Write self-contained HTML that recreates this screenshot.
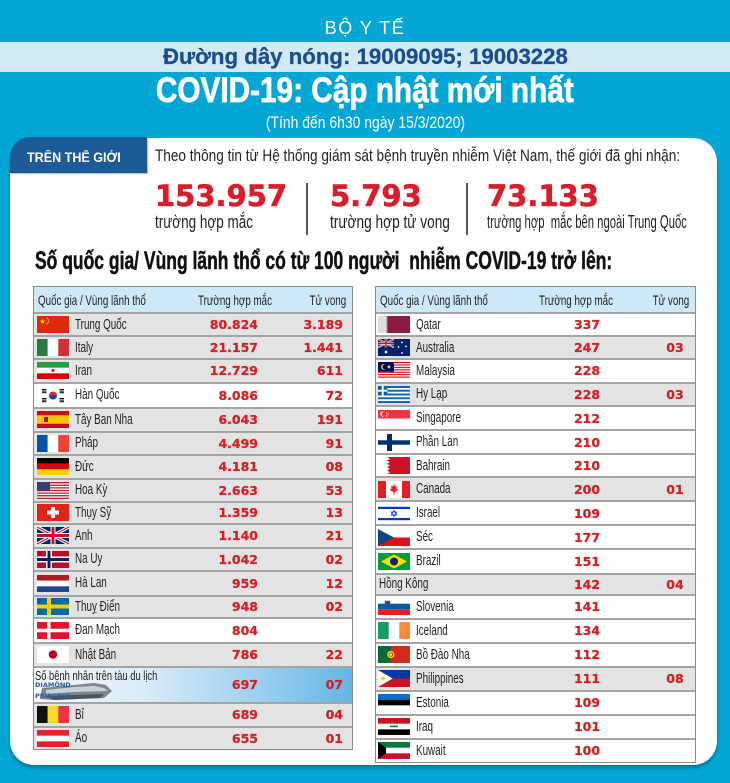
<!DOCTYPE html>
<html><head><meta charset="utf-8">
<style>
*{margin:0;padding:0;box-sizing:border-box}
html,body{width:730px;height:783px;overflow:hidden}
body{position:relative;background:#03a6d5;font-family:"Liberation Sans",sans-serif;color:#231f20}
.a{position:absolute;white-space:nowrap;line-height:1}
.cw{left:0;width:730px;text-align:center}
.cw span{display:inline-block;transform-origin:50% 50%}
.sx{display:inline-block;transform-origin:0 50%}
.card{position:absolute;left:10px;top:138px;width:707px;height:627px;background:#fff;border-radius:24px;box-shadow:0 3px 3px rgba(0,0,0,.28)}
.tab{position:absolute;left:10px;top:137px;width:137px;height:36px;background:#1d5a98;border-top-left-radius:20px;box-shadow:1px 1px 1px rgba(0,0,0,.3)}
.big{font-family:"DejaVu Sans",sans-serif;font-weight:bold;font-size:29px;color:#d71f2b;-webkit-text-stroke:.6px #d71f2b}
.lab{font-size:18px;color:#231f20}
.dv{position:absolute;top:183px;width:2px;height:52px;background:#58595b}
.tb{position:absolute;top:286px;border:1px solid #8b8b8b;background:#fff}
.hd{position:relative;height:25px;background:#cde8f6}
.r{position:relative;border-top:2px solid #a4a4a4}
.g{background:#e3e3e4}
.r>span,.hd>span{position:absolute;top:0;bottom:0;display:flex;align-items:center;white-space:nowrap}
.hd>span{font-size:14px;color:#231f20}
.h1{left:4px;transform:scaleX(.7);transform-origin:0 50%}
.h2{transform:translateX(-50%) scaleX(.7);transform-origin:50% 50%}
.h3{right:6px;transform:scaleX(.7);transform-origin:100% 50%}
.nm{font-size:14.5px;transform:scaleX(.68);transform-origin:0 50%}
.n{font-family:"DejaVu Sans",sans-serif;font-weight:bold;font-size:12.5px;color:#d42027;-webkit-text-stroke:.25px #d42027}
.tb1{left:33px;width:320px}
.tb2{left:375px;width:321px}
.tb1 .c{right:94px}.tb1 .d{right:9px}
.tb2 .c{left:211px;transform:translateX(-50%)}
.tb2 .d{left:299px;transform:translateX(-50%)}
.tb1 .nm{left:41px}.tb2 .nm{left:40px}
.tb1 .h2{left:201px}.tb2 .h2{left:200px}
svg.f{position:absolute;top:50%;margin-top:-8.5px;width:32px;height:17px}
.tb1 svg.f{left:3px}.tb2 svg.f{left:2px}
</style></head><body>

<!-- header -->
<div class="a cw" style="top:19px;font-size:18px;color:#fff;letter-spacing:1.5px"><span>BỘ Y TẾ</span></div>
<div style="position:absolute;left:0;top:42px;width:730px;height:30px;background:#d3eaf4"></div>
<div class="a cw" style="top:46px;font-size:22px;font-weight:bold;color:#1b4e8e;-webkit-text-stroke:.3px #1b4e8e"><span style="transform:scaleX(1.01)">Đường dây nóng: 19009095; 19003228</span></div>
<div class="a cw" style="top:73px;font-size:35px;font-weight:bold;color:#fff;-webkit-text-stroke:.7px #fff"><span style="transform:scaleX(.85)">COVID-19: Cập nhật mới nhất</span></div>
<div class="a cw" style="top:114px;font-size:17px;color:#fff"><span style="transform:scaleX(.82)">(Tính đến 6h30 ngày 15/3/2020)</span></div>

<div class="card"></div>
<div class="tab"></div>
<div class="a" style="left:27px;top:151px;font-size:13.5px;font-weight:bold;color:#fff"><span class="sx" style="transform:scaleX(.93)">TRÊN THẾ GIỚI</span></div>
<div class="a" style="left:155px;top:147px;font-size:17px"><span class="sx" style="transform:scaleX(.8)">Theo thông tin từ Hệ thống giám sát bệnh truyền nhiễm Việt Nam, thế giới đã ghi nhận:</span></div>

<div class="a big" style="left:155px;top:181.5px">153.957</div>
<div class="a big" style="left:330px;top:181.5px">5.793</div>
<div class="a big" style="left:487px;top:181.5px">73.133</div>
<div class="a lab" style="left:155px;top:213px"><span class="sx" style="transform:scaleX(.75)">trường hợp mắc</span></div>
<div class="a lab" style="left:330px;top:213px"><span class="sx" style="transform:scaleX(.76)">trường hợp tử vong</span></div>
<div class="a lab" style="left:487px;top:213px"><span class="sx" style="transform:scaleX(.627)">trường hợp &nbsp;mắc bên ngoài Trung Quốc</span></div>
<div class="dv" style="left:306px"></div>
<div class="dv" style="left:466px"></div>

<div class="a" style="left:35px;top:249px;font-size:25px;font-weight:bold;color:#111;-webkit-text-stroke:.5px #111"><span class="sx" style="transform:scaleX(.7)">Số quốc gia/ Vùng lãnh thổ có từ 100 người &nbsp;nhiễm COVID-19 trở lên:</span></div>

<!-- LEFT TABLE -->
<div class="tb tb1">
<div class="hd"><span class="h1">Quốc gia / Vùng lãnh thổ</span><span class="h2">Trường hợp mắc</span><span class="h3">Tử vong</span></div>

<div class="r g" style="height:23px"><svg class="f" viewBox="0 0 32 17" preserveAspectRatio="none"><rect width="32" height="17" fill="#de2910"/><polygon fill="#ffde00" points="5.5,2.5 6.2,4.5 8.3,4.6 6.6,5.9 7.3,7.9 5.5,6.7 3.7,7.9 4.4,5.9 2.7,4.6 4.8,4.5"/><circle cx="10" cy="2.3" r=".7" fill="#ffde00"/><circle cx="11.3" cy="4" r=".7" fill="#ffde00"/><circle cx="11.3" cy="6.2" r=".7" fill="#ffde00"/><circle cx="10" cy="7.8" r=".7" fill="#ffde00"/></svg><span class="nm">Trung Quốc</span><span class="n c">80.824</span><span class="n d">3.189</span></div>

<div class="r g" style="height:23px"><svg class="f" viewBox="0 0 32 17" preserveAspectRatio="none"><rect width="10.7" height="17" fill="#2d7a3f"/><rect x="10.7" width="10.6" height="17" fill="#fff"/><rect x="21.3" width="10.7" height="17" fill="#d42e36"/></svg><span class="nm">Italy</span><span class="n c">21.157</span><span class="n d">1.441</span></div>

<div class="r g" style="height:23.5px"><svg class="f" viewBox="0 0 32 17" preserveAspectRatio="none"><rect width="32" height="17" fill="#fff"/><rect width="32" height="5.67" fill="#239f40"/><rect y="11.33" width="32" height="5.67" fill="#da0000"/><circle cx="16" cy="8.5" r="1.5" fill="#da0000"/></svg><span class="nm">Iran</span><span class="n c">12.729</span><span class="n d">611</span></div>

<div class="r" style="height:25px"><svg class="f" viewBox="0 0 32 17" preserveAspectRatio="none"><rect width="32" height="17" fill="#fff"/><path d="M12,8.5 a4,4 0 0 1 8,0z" fill="#cd2e3a"/><path d="M12,8.5 a4,4 0 0 0 8,0z" fill="#0047a0"/><g fill="#000"><rect x="5" y="2" width="4.5" height="1"/><rect x="5" y="3.6" width="4.5" height="1"/><rect x="5" y="5.2" width="4.5" height="1"/><rect x="22.5" y="2" width="4.5" height="1"/><rect x="22.5" y="3.6" width="4.5" height="1"/><rect x="22.5" y="5.2" width="4.5" height="1"/><rect x="5" y="11" width="4.5" height="1"/><rect x="5" y="12.6" width="4.5" height="1"/><rect x="5" y="14.2" width="4.5" height="1"/><rect x="22.5" y="11" width="4.5" height="1"/><rect x="22.5" y="12.6" width="4.5" height="1"/><rect x="22.5" y="14.2" width="4.5" height="1"/></g></svg><span class="nm">Hàn Quốc</span><span class="n c">8.086</span><span class="n d">72</span></div>

<div class="r g" style="height:24px"><svg class="f" viewBox="0 0 32 17" preserveAspectRatio="none"><rect width="32" height="17" fill="#c60b1e"/><rect y="4.25" width="32" height="8.5" fill="#ffc400"/><rect x="7" y="6" width="4" height="5" fill="#ad1519"/></svg><span class="nm">Tây Ban Nha</span><span class="n c">6.043</span><span class="n d">191</span></div>

<div class="r g" style="height:23px"><svg class="f" viewBox="0 0 32 17" preserveAspectRatio="none"><rect width="10.7" height="17" fill="#0055a4"/><rect x="10.7" width="10.6" height="17" fill="#fff"/><rect x="21.3" width="10.7" height="17" fill="#ef4135"/></svg><span class="nm">Pháp</span><span class="n c">4.499</span><span class="n d">91</span></div>

<div class="r g" style="height:24px"><svg class="f" viewBox="0 0 32 17" preserveAspectRatio="none"><rect width="32" height="5.67" fill="#000"/><rect y="5.67" width="32" height="5.66" fill="#dd0000"/><rect y="11.33" width="32" height="5.67" fill="#ffce00"/></svg><span class="nm">Đức</span><span class="n c">4.181</span><span class="n d">08</span></div>

<div class="r g" style="height:23px"><svg class="f" viewBox="0 0 32 17" preserveAspectRatio="none"><defs><pattern id="pus" width="32" height="2.615" patternUnits="userSpaceOnUse"><rect width="32" height="1.3077" fill="#b22234"/><rect y="1.3077" width="32" height="1.3077" fill="#fff"/></pattern></defs><rect width="32" height="17" fill="url(#pus)"/><rect width="13" height="9.15" fill="#3c3b6e"/></svg><span class="nm">Hoa Kỳ</span><span class="n c">2.663</span><span class="n d">53</span></div>

<div class="r g" style="height:22px"><svg class="f" viewBox="0 0 32 17" preserveAspectRatio="none"><rect width="32" height="17" fill="#e2231a"/><rect x="14" y="3" width="4" height="11" fill="#fff"/><rect x="10" y="6.5" width="12" height="4" fill="#fff"/></svg><span class="nm">Thụy Sỹ</span><span class="n c">1.359</span><span class="n d">13</span></div>

<div class="r g" style="height:24px"><svg class="f" viewBox="0 0 32 17" preserveAspectRatio="none"><rect width="32" height="17" fill="#012169"/><path d="M0,0L32,17M32,0L0,17" stroke="#fff" stroke-width="3.4"/><path d="M0,0L32,17M32,0L0,17" stroke="#c8102e" stroke-width="1.2"/><path d="M16,0V17M0,8.5H32" stroke="#fff" stroke-width="5"/><path d="M16,0V17M0,8.5H32" stroke="#c8102e" stroke-width="3"/></svg><span class="nm">Anh</span><span class="n c">1.140</span><span class="n d">21</span></div>

<div class="r g" style="height:23px"><svg class="f" viewBox="0 0 32 17" preserveAspectRatio="none"><rect width="32" height="17" fill="#ba0c2f"/><rect x="9" width="6" height="17" fill="#fff"/><rect y="5.5" width="32" height="6" fill="#fff"/><rect x="10.5" width="3" height="17" fill="#00205b"/><rect y="7" width="32" height="3" fill="#00205b"/></svg><span class="nm">Na Uy</span><span class="n c">1.042</span><span class="n d">02</span></div>

<div class="r g" style="height:25px"><svg class="f" viewBox="0 0 32 17" preserveAspectRatio="none"><rect width="32" height="5.67" fill="#ae1c28"/><rect y="5.67" width="32" height="5.66" fill="#fff"/><rect y="11.33" width="32" height="5.67" fill="#21468b"/></svg><span class="nm">Hà Lan</span><span class="n c">959</span><span class="n d">12</span></div>

<div class="r g" style="height:22px"><svg class="f" viewBox="0 0 32 17" preserveAspectRatio="none"><rect width="32" height="17" fill="#006aa7"/><rect x="10" width="4" height="17" fill="#fecc00"/><rect y="6.5" width="32" height="4" fill="#fecc00"/></svg><span class="nm">Thuỵ Điển</span><span class="n c">948</span><span class="n d">02</span></div>

<div class="r" style="height:25px"><svg class="f" viewBox="0 0 32 17" preserveAspectRatio="none"><rect width="32" height="17" fill="#e8112d"/><rect x="10" width="3.5" height="17" fill="#fff"/><rect y="6.75" width="32" height="3.5" fill="#fff"/></svg><span class="nm">Đan Mạch</span><span class="n c">804</span></div>

<div class="r g" style="height:24px"><svg class="f" viewBox="0 0 32 17" preserveAspectRatio="none"><rect width="32" height="17" fill="#fff"/><circle cx="16" cy="8.5" r="4.3" fill="#bc002d"/></svg><span class="nm">Nhật Bản</span><span class="n c">786</span><span class="n d">22</span></div>

<div class="r" style="height:36px;background:linear-gradient(to right,#f2f7fb 0%,#d9ecf8 35%,#9ed0ef 70%,#64b6e5 100%)">
<svg style="position:absolute;left:0;top:11px;width:80px;height:23px" viewBox="0 0 80 23"><polygon points="8,9 40,6 60,4 72,6 78,12 70,19 20,21 6,20" fill="#7d8791"/><polygon points="12,11 40,8 60,7 70,9 74,12 40,13 12,15" fill="#c9d1d8"/><polygon points="10,17 70,15 66,19 20,21" fill="#4b545c"/><text x="1" y="8" font-family="DejaVu Sans" font-weight="bold" font-size="6.5" fill="#2a5ea8">DIAMOND</text><text x="1" y="19" font-family="DejaVu Sans" font-weight="bold" font-size="6.5" fill="#2a5ea8">PRINCESS</text></svg>
<span style="left:1px;top:1px;bottom:auto;display:block;font-size:13px;line-height:1;transform:scaleX(.72);transform-origin:0 0">Số bệnh nhân trên tàu du lịch</span>
<span class="n c">697</span><span class="n d">07</span></div>

<div class="r g" style="height:24px"><svg class="f" viewBox="0 0 32 17" preserveAspectRatio="none"><rect width="10.7" height="17" fill="#111"/><rect x="10.7" width="10.6" height="17" fill="#fdda24"/><rect x="21.3" width="10.7" height="17" fill="#ef3340"/></svg><span class="nm">Bỉ</span><span class="n c">689</span><span class="n d">04</span></div>

<div class="r g" style="height:23px"><svg class="f" viewBox="0 0 32 17" preserveAspectRatio="none"><rect width="32" height="17" fill="#fff"/><rect width="32" height="5.67" fill="#e4222f"/><rect y="11.33" width="32" height="5.67" fill="#e4222f"/></svg><span class="nm">Áo</span><span class="n c">655</span><span class="n d">01</span></div>
</div>

<!-- RIGHT TABLE -->
<div class="tb tb2">
<div class="hd"><span class="h1">Quốc gia / Vùng lãnh thổ</span><span class="h2">Trường hợp mắc</span><span class="h3">Tử vong</span></div>

<div class="r" style="height:23px"><svg class="f" viewBox="0 0 32 17" preserveAspectRatio="none"><rect width="32" height="17" fill="#8d1b3d"/><polygon fill="#ddd" points="0,0 8,0 10,1 8,2 10,3 8,4 10,5 8,6 10,7 8,8 10,9 8,10 10,11 8,12 10,13 8,14 10,15 8,16 10,17 0,17"/></svg><span class="nm">Qatar</span><span class="n c">337</span></div>

<div class="r g" style="height:23px"><svg class="f" viewBox="0 0 32 17" preserveAspectRatio="none"><rect width="32" height="17" fill="#012169"/><g transform="scale(.5)"><path d="M0,0L32,17M32,0L0,17" stroke="#fff" stroke-width="3.4"/><path d="M0,0L32,17M32,0L0,17" stroke="#c8102e" stroke-width="1.2"/><path d="M16,0V17M0,8.5H32" stroke="#fff" stroke-width="5"/><path d="M16,0V17M0,8.5H32" stroke="#c8102e" stroke-width="3"/></g><g fill="#fff"><circle cx="8" cy="13" r="1.4"/><circle cx="24" cy="3.5" r=".9"/><circle cx="28" cy="7.5" r=".9"/><circle cx="24" cy="14" r=".9"/><circle cx="20.5" cy="8" r=".9"/></g></svg><span class="nm">Australia</span><span class="n c">247</span><span class="n d">03</span></div>

<div class="r" style="height:23.5px"><svg class="f" viewBox="0 0 32 17" preserveAspectRatio="none"><defs><pattern id="pmy" width="32" height="2.428" patternUnits="userSpaceOnUse"><rect width="32" height="1.214" fill="#cc0001"/><rect y="1.214" width="32" height="1.214" fill="#fff"/></pattern></defs><rect width="32" height="17" fill="url(#pmy)"/><rect width="16" height="9.7" fill="#010066"/><circle cx="6" cy="4.85" r="3" fill="#fc0"/><circle cx="7" cy="4.85" r="2.5" fill="#010066"/><circle cx="11" cy="4.85" r="1.5" fill="#fc0"/></svg><span class="nm">Malaysia</span><span class="n c">228</span></div>

<div class="r g" style="height:23.5px"><svg class="f" viewBox="0 0 32 17" preserveAspectRatio="none"><defs><pattern id="pgr" width="32" height="3.778" patternUnits="userSpaceOnUse"><rect width="32" height="1.889" fill="#0d5eaf"/><rect y="1.889" width="32" height="1.889" fill="#fff"/></pattern></defs><rect width="32" height="17" fill="url(#pgr)"/><rect width="9.4" height="9.45" fill="#0d5eaf"/><rect x="3.78" width="1.89" height="9.45" fill="#fff"/><rect y="3.78" width="9.4" height="1.89" fill="#fff"/></svg><span class="nm">Hy Lạp</span><span class="n c">228</span><span class="n d">03</span></div>

<div class="r" style="height:24px"><svg class="f" viewBox="0 0 32 17" preserveAspectRatio="none"><rect width="32" height="17" fill="#fff"/><rect width="32" height="8.5" fill="#ef3340"/><circle cx="5" cy="4.2" r="2.6" fill="#fff"/><circle cx="6.2" cy="4.2" r="2.4" fill="#ef3340"/><circle cx="8.5" cy="3" r=".6" fill="#fff"/><circle cx="10" cy="4.5" r=".6" fill="#fff"/><circle cx="8.5" cy="6" r=".6" fill="#fff"/></svg><span class="nm">Singapore</span><span class="n c">212</span></div>

<div class="r" style="height:24px"><svg class="f" viewBox="0 0 32 17" preserveAspectRatio="none"><rect width="32" height="17" fill="#fff"/><rect x="9" width="5" height="17" fill="#002f6c"/><rect y="6.3" width="32" height="4.4" fill="#002f6c"/></svg><span class="nm">Phần Lan</span><span class="n c">210</span></div>

<div class="r" style="height:23px"><svg class="f" viewBox="0 0 32 17" preserveAspectRatio="none"><rect width="32" height="17" fill="#fff"/><polygon fill="#ce1126" points="9,0 32,0 32,17 9,17 12,15.3 9,13.6 12,11.9 9,10.2 12,8.5 9,6.8 12,5.1 9,3.4 12,1.7"/></svg><span class="nm">Bahrain</span><span class="n c">210</span></div>

<div class="r g" style="height:24px"><svg class="f" viewBox="0 0 32 17" preserveAspectRatio="none"><rect width="32" height="17" fill="#fff"/><rect width="8" height="17" fill="#e31e24"/><rect x="24" width="8" height="17" fill="#e31e24"/><polygon fill="#e31e24" points="16,3 17.2,5.5 19,5 18.3,8 20,7.5 19.5,9.5 16.6,11 16.6,13.5 15.4,13.5 15.4,11 12.5,9.5 12,7.5 13.7,8 13,5 14.8,5.5"/></svg><span class="nm">Canada</span><span class="n c">200</span><span class="n d">01</span></div>

<div class="r" style="height:24px"><svg class="f" viewBox="0 0 32 17" preserveAspectRatio="none"><rect width="32" height="17" fill="#fff"/><rect y="1.8" width="32" height="2.2" fill="#0038b8"/><rect y="13" width="32" height="2.2" fill="#0038b8"/><polygon points="16,5.3 18.8,10 13.2,10" fill="none" stroke="#0038b8" stroke-width=".7"/><polygon points="16,11.7 13.2,7 18.8,7" fill="none" stroke="#0038b8" stroke-width=".7"/></svg><span class="nm">Israel</span><span class="n c">109</span></div>

<div class="r" style="height:24px"><svg class="f" viewBox="0 0 32 17" preserveAspectRatio="none"><rect width="32" height="17" fill="#fff"/><rect y="8.5" width="32" height="8.5" fill="#d7141a"/><polygon points="0,0 16,8.5 0,17" fill="#11457e"/></svg><span class="nm">Séc</span><span class="n c">177</span></div>

<div class="r" style="height:24.5px"><svg class="f" viewBox="0 0 32 17" preserveAspectRatio="none"><rect width="32" height="17" fill="#009c3b"/><polygon points="3,8.5 16,1.5 29,8.5 16,15.5" fill="#ffdf00"/><circle cx="16" cy="8.5" r="4" fill="#002776"/></svg><span class="nm">Brazil</span><span class="n c">151</span></div>

<div class="r g" style="height:21px"><span class="nm" style="left:3px">Hồng Kông</span><span class="n c">142</span><span class="n d">04</span></div>

<div class="r" style="height:24px"><svg class="f" viewBox="0 0 32 17" preserveAspectRatio="none"><rect width="32" height="17" fill="#fff"/><rect y="5.67" width="32" height="5.66" fill="#005da4"/><rect y="11.33" width="32" height="5.67" fill="#ed1c24"/><path d="M7,3 h5 v4 l-2.5,2 l-2.5,-2z" fill="#005da4" stroke="#ed1c24" stroke-width=".4"/></svg><span class="nm">Slovenia</span><span class="n c">141</span></div>

<div class="r" style="height:24px"><svg class="f" viewBox="0 0 32 17" preserveAspectRatio="none"><rect width="32" height="17" fill="#fff"/><rect width="10.7" height="17" fill="#169b62"/><rect x="21.3" width="10.7" height="17" fill="#ff883e"/></svg><span class="nm">Iceland</span><span class="n c">134</span></div>

<div class="r" style="height:24px"><svg class="f" viewBox="0 0 32 17" preserveAspectRatio="none"><rect width="32" height="17" fill="#da291c"/><rect width="12.8" height="17" fill="#046a38"/><circle cx="12.8" cy="8.5" r="3.6" fill="#ffe900"/><circle cx="12.8" cy="8.5" r="2.3" fill="#da291c"/><circle cx="12.8" cy="8.5" r="1.3" fill="#fff"/></svg><span class="nm">Bồ Đào Nha</span><span class="n c">112</span></div>

<div class="r g" style="height:24px"><svg class="f" viewBox="0 0 32 17" preserveAspectRatio="none"><rect width="32" height="8.5" fill="#0038a8"/><rect y="8.5" width="32" height="8.5" fill="#ce1126"/><polygon points="0,0 14.7,8.5 0,17" fill="#fff"/><circle cx="5" cy="8.5" r="1.9" fill="#fcd116"/></svg><span class="nm">Philippines</span><span class="n c">111</span><span class="n d">08</span></div>

<div class="r" style="height:24px"><svg class="f" viewBox="0 0 32 17" preserveAspectRatio="none"><rect width="32" height="17" fill="#fff"/><rect width="32" height="5.67" fill="#0072ce"/><rect y="5.67" width="32" height="5.66" fill="#000"/></svg><span class="nm">Estonia</span><span class="n c">109</span></div>

<div class="r" style="height:24px"><svg class="f" viewBox="0 0 32 17" preserveAspectRatio="none"><rect width="32" height="17" fill="#fff"/><rect width="32" height="5.67" fill="#ce1126"/><rect y="11.33" width="32" height="5.67" fill="#000"/><rect x="12" y="7.6" width="8" height="1.6" fill="#007a3d"/></svg><span class="nm">Iraq</span><span class="n c">101</span></div>

<div class="r" style="height:24px"><svg class="f" viewBox="0 0 32 17" preserveAspectRatio="none"><rect width="32" height="17" fill="#fff"/><rect width="32" height="5.67" fill="#007a3d"/><rect y="11.33" width="32" height="5.67" fill="#ce1126"/><polygon points="0,0 8,5.67 8,11.33 0,17" fill="#000"/></svg><span class="nm">Kuwait</span><span class="n c">100</span></div>
</div>

</body></html>
